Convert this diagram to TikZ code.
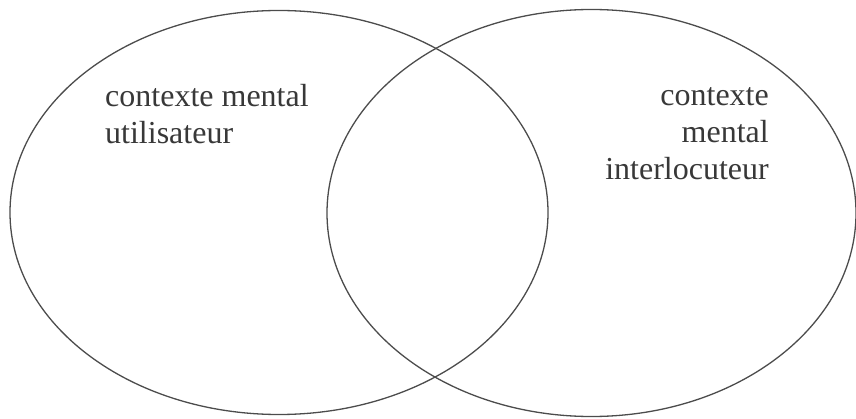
\documentclass[tikz,border=0pt]{standalone}
\usepackage{fontspec}
\setmainfont{Liberation Serif}
\usepackage{tikz}
\usetikzlibrary{shapes.geometric}
\definecolor{ringgray}{gray}{0.3}
\definecolor{labelgray}{gray}{0.22}

\begin{document}
\begin{tikzpicture}[
  x=1pt, y=1pt,
  ctx/.style={ellipse, draw=ringgray, line width=1.3pt, inner sep=0pt},
  lbl/.style={font=\fontsize{32}{37}\selectfont, text=labelgray, inner sep=0pt}
]
\useasboundingbox (0,0) rectangle (856,418);

\node[ctx, minimum width=538pt, minimum height=404pt] (user) at (279,205.5) {};
\node[ctx, minimum width=529pt, minimum height=407pt] (other) at (591.5,205) {};

\node[lbl, align=left, anchor=base west] (userlbl) at (105,274) {contexte mental\\utilisateur};
\node[lbl, align=right, anchor=base east] (otherlbl) at (769,238) {contexte\\mental\\interlocuteur};

\end{tikzpicture}
\end{document}
